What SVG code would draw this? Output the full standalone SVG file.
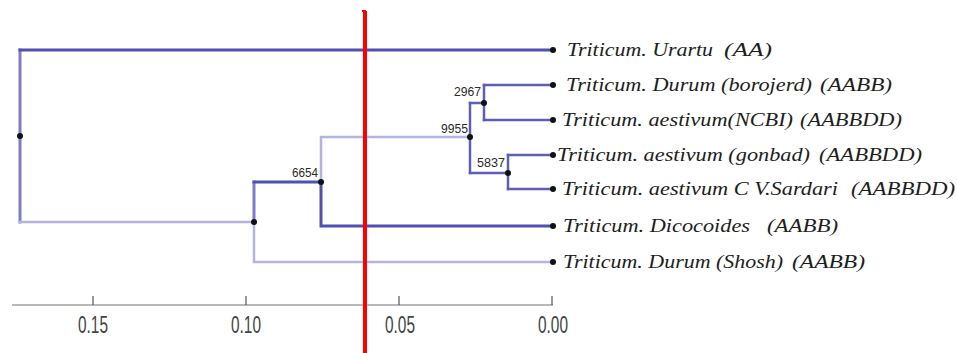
<svg xmlns="http://www.w3.org/2000/svg" width="957" height="353" viewBox="0 0 957 353">
  <style>
    .dark { fill: none; stroke: #5050b0; stroke-width: 3; stroke-linecap: square; }
    .mid { fill: none; stroke: #7c7cc8; stroke-width: 3; stroke-linecap: square; }
    .inner { fill: none; stroke: #5e5eb8; stroke-width: 2.5; stroke-linecap: square; }
    .light { fill: none; stroke: #b4b4e0; stroke-width: 2.5; stroke-linecap: square; }
    .dot { fill: #111; }
    .leaf { font-family: "Liberation Serif", "DejaVu Serif", serif; font-style: italic; font-size: 18px; fill: #1e1e1e; }
    .boot { font-family: "Liberation Sans", "DejaVu Sans", sans-serif; font-size: 12px; fill: #2a2a2a; }
    .tick { font-family: "Liberation Sans", "DejaVu Sans", sans-serif; font-size: 23px; fill: #444; }
  </style>
  <rect width="957" height="353" fill="#fff"/>

  <!-- branches -->
  <g id="connectors">
    <path class="mid" d="M20 50 V222"/>
    <path class="dark" d="M20 50 H553"/>
    <path class="light" d="M20 222 H254"/>
    <path class="mid" d="M254 182 V222"/>
    <path class="light" d="M254 222 V262 H553"/>
    <path class="dark" d="M254 182 H321"/>
    <path class="light" d="M321 182 V137 H470"/>
    <path class="dark" d="M321 182 V226 H553"/>
    <path class="inner" d="M470 103 V173"/>
    <path class="inner" d="M470 103 H484"/>
    <path class="inner" d="M470 173 H508"/>
    <path class="inner" d="M484 85 V120"/>
    <path class="inner" d="M484 85 H553"/>
    <path class="inner" d="M484 120 H553"/>
    <path class="inner" d="M508 155 V189"/>
    <path class="inner" d="M508 155 H553"/>
    <path class="inner" d="M508 189 H553"/>
  </g>

  <!-- internal nodes -->
  <g id="node-root"><circle class="dot" cx="20" cy="136" r="3"/></g>
  <g id="node-b"><circle class="dot" cx="254" cy="222" r="3"/></g>
  <g id="node-6654"><circle class="dot" cx="321" cy="182" r="3"/><text class="boot" x="318" y="177" text-anchor="end" textLength="26" lengthAdjust="spacingAndGlyphs">6654</text></g>
  <g id="node-9955"><circle class="dot" cx="470" cy="137" r="3"/><text class="boot" x="468" y="133" text-anchor="end" textLength="27" lengthAdjust="spacingAndGlyphs">9955</text></g>
  <g id="node-2967"><circle class="dot" cx="484" cy="103" r="3"/><text class="boot" x="481" y="96" text-anchor="end" textLength="27" lengthAdjust="spacingAndGlyphs">2967</text></g>
  <g id="node-5837"><circle class="dot" cx="508" cy="173" r="3"/><text class="boot" x="505" y="167" text-anchor="end" textLength="28" lengthAdjust="spacingAndGlyphs">5837</text></g>

  <!-- leaves -->
  <g id="leaf-urartu"><circle class="dot" cx="553" cy="50" r="3"/>
    <text class="leaf" x="567" y="56" textLength="146" lengthAdjust="spacingAndGlyphs">Triticum. Urartu</text>
    <text class="leaf" x="724" y="56" textLength="48" lengthAdjust="spacingAndGlyphs">(AA)</text></g>
  <g id="leaf-borojerd"><circle class="dot" cx="553" cy="85" r="3"/>
    <text class="leaf" x="566" y="91" textLength="246" lengthAdjust="spacingAndGlyphs">Triticum. Durum (borojerd)</text>
    <text class="leaf" x="820" y="91" textLength="72" lengthAdjust="spacingAndGlyphs">(AABB)</text></g>
  <g id="leaf-ncbi"><circle class="dot" cx="553" cy="120" r="3"/>
    <text class="leaf" x="562" y="126" textLength="231" lengthAdjust="spacingAndGlyphs">Triticum. aestivum(NCBI)</text>
    <text class="leaf" x="800" y="126" textLength="102" lengthAdjust="spacingAndGlyphs">(AABBDD)</text></g>
  <g id="leaf-gonbad"><circle class="dot" cx="553" cy="155" r="3"/>
    <text class="leaf" x="557" y="161" textLength="253" lengthAdjust="spacingAndGlyphs">Triticum. aestivum (gonbad)</text>
    <text class="leaf" x="819" y="161" textLength="103" lengthAdjust="spacingAndGlyphs">(AABBDD)</text></g>
  <g id="leaf-sardari"><circle class="dot" cx="553" cy="189" r="3"/>
    <text class="leaf" x="562" y="195" textLength="276" lengthAdjust="spacingAndGlyphs">Triticum. aestivum C V.Sardari</text>
    <text class="leaf" x="851" y="195" textLength="104" lengthAdjust="spacingAndGlyphs">(AABBDD)</text></g>
  <g id="leaf-dicocoides"><circle class="dot" cx="553" cy="226" r="3"/>
    <text class="leaf" x="563" y="232" textLength="187" lengthAdjust="spacingAndGlyphs">Triticum. Dicocoides</text>
    <text class="leaf" x="767" y="232" textLength="71" lengthAdjust="spacingAndGlyphs">(AABB)</text></g>
  <g id="leaf-shosh"><circle class="dot" cx="553" cy="262" r="3"/>
    <text class="leaf" x="563" y="268" textLength="220" lengthAdjust="spacingAndGlyphs">Triticum. Durum (Shosh)</text>
    <text class="leaf" x="792" y="268" textLength="73" lengthAdjust="spacingAndGlyphs">(AABB)</text></g>

  <!-- distance scale -->
  <g id="axis">
    <line x1="12" y1="305" x2="553" y2="305" stroke="#b8b8b8" stroke-width="2"/>
    <g stroke="#555" stroke-width="1.2">
      <line x1="93" y1="296" x2="93" y2="305"/>
      <line x1="246" y1="296" x2="246" y2="305"/>
      <line x1="399" y1="296" x2="399" y2="305"/>
      <line x1="552" y1="296" x2="552" y2="305"/>
    </g>
    <text class="tick" x="93" y="333" text-anchor="middle" textLength="30" lengthAdjust="spacingAndGlyphs">0.15</text>
    <text class="tick" x="246" y="333" text-anchor="middle" textLength="30" lengthAdjust="spacingAndGlyphs">0.10</text>
    <text class="tick" x="400" y="333" text-anchor="middle" textLength="30" lengthAdjust="spacingAndGlyphs">0.05</text>
    <text class="tick" x="553" y="333" text-anchor="middle" textLength="30" lengthAdjust="spacingAndGlyphs">0.00</text>
  </g>

  <!-- red cut line -->
  <g id="cut-line">
    <path d="M365 11 V353" stroke="#ff0000" stroke-width="4" fill="none"/>
    <path d="M362 11 H366" stroke="#ff0000" stroke-width="2" fill="none"/>
  </g>
</svg>
